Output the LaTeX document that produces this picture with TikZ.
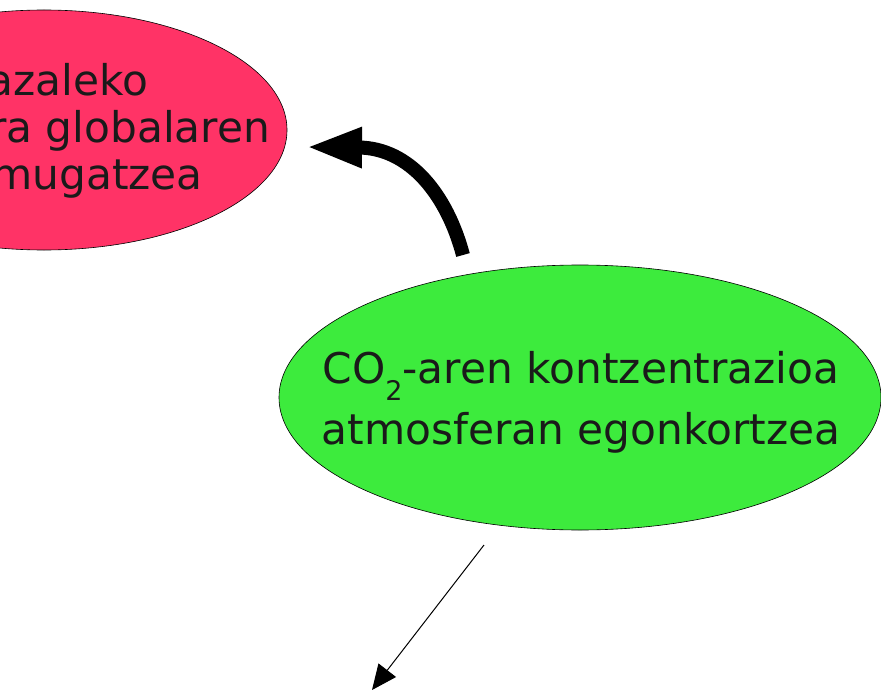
\documentclass[tikz,border=0pt]{standalone}
\usepackage{fontspec}
\setmainfont{DejaVu Sans}
\usetikzlibrary{arrows.meta,shapes.geometric}
\definecolor{heatred}{RGB}{255,51,102}
\definecolor{stabgreen}{RGB}{61,235,61}
\definecolor{inkgray}{RGB}{26,26,26}
\begin{document}
\begin{tikzpicture}[x=1bp,y=-1bp,
  blob/.style={ellipse, draw=black, line width=0.6bp, inner sep=0pt, outer sep=0pt},
  txt/.style={text=inkgray, inner sep=0pt, font=\fontsize{42.3bp}{47bp}\selectfont},
  bigflow/.style={line width=14bp, -{Triangle[length=56bp,width=37bp]}},
  thinflow/.style={line width=1bp, -{Triangle[length=25bp,width=22bp]}}]
\useasboundingbox (0,0) rectangle (881,697);

% the two goals
\node[blob, fill=heatred, minimum width=486bp, minimum height=240bp] (heat) at (44,130) {};
\node[blob, fill=stabgreen, minimum width=602bp, minimum height=265bp] (stab) at (580,397.5) {};

% text of the upper goal, one node per line
\node[txt, anchor=base west] (heatA) at (-13,96) {azaleko};
\node[txt, anchor=base west] (heatB) at (-11,143) {ra globalaren};
\node[txt, anchor=base west] (heatC) at (-9,189) {mugatzea};

% text of the lower goal
\node[txt, align=center, font=\fontsize{42.3bp}{61bp}\selectfont] (stabtxt) at (581,402.5)
  {CO\raisebox{-17bp}{\fontsize{27bp}{27bp}\selectfont 2}-aren kontzentrazioa\\atmosferan egonkortzea};

% connectors
\coordinate (bendfrom) at (463,255);
\coordinate (bendto) at (306,147);
\draw[bigflow] (bendfrom) .. controls (447,195) and (410,148) .. (bendto);

\coordinate (dropfrom) at (484,545);
\coordinate (dropto) at (372,690);
\draw[thinflow] (dropfrom) -- (dropto);
\end{tikzpicture}
\end{document}
